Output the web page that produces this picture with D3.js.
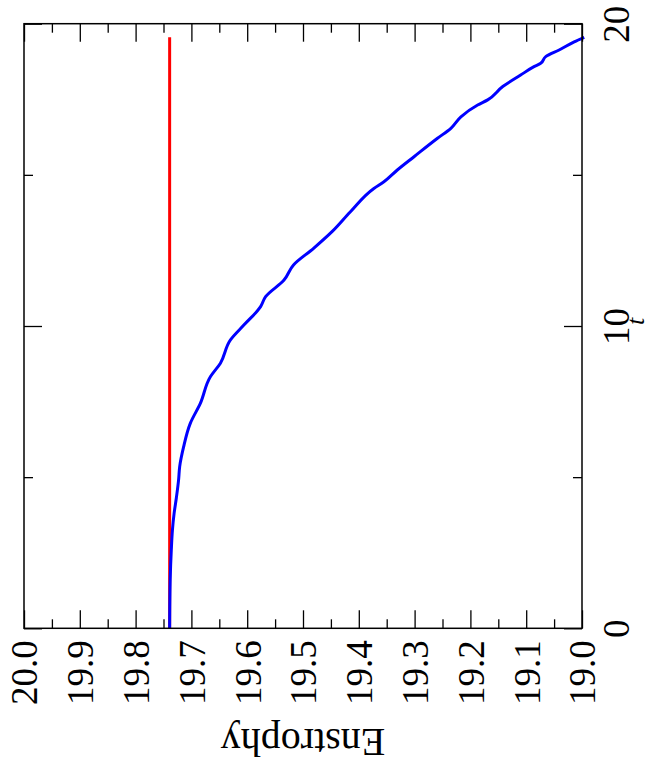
<!DOCTYPE html>
<html>
<head>
<meta charset="utf-8">
<script src="https://cdn.jsdelivr.net/npm/d3@7"></script>
<style>
  body { margin: 0; background: #fff; }
</style>
</head>
<body>
<div id="graph"></div>
<script>
// Data
const tValues = [0, 1.6, 2.6, 3.25, 3.8, 4.31, 4.9, 5.35, 6.0, 6.78, 7.44, 8.32, 8.77, 9.54, 10.03, 10.64, 10.97,
  11.52, 12.02, 12.57, 13.12, 13.78, 14.55, 14.77, 15.16, 15.6, 16.21, 16.54, 16.92, 17.31, 17.48, 17.92,
  18.3, 18.58, 18.69, 18.91, 19.13, 19.4, 19.55];
const enstrophyValues = [19.739, 19.738, 19.736, 19.734, 19.731, 19.727, 19.723, 19.721, 19.714, 19.702, 19.684,
  19.666, 19.648, 19.630, 19.606, 19.576, 19.567, 19.534, 19.517, 19.481, 19.448, 19.415, 19.373, 19.355,
  19.331, 19.301, 19.259, 19.235, 19.217, 19.187, 19.169, 19.142, 19.110, 19.086, 19.074, 19.065, 19.041,
  19.014, 18.996];
const refT = [0, 19.55];
const refEnstrophy = [19.739, 19.739];

const enstrophyTicks = [20.0, 19.9, 19.8, 19.7, 19.6, 19.5, 19.4, 19.3, 19.2, 19.1, 19.0];
const enstrophyMinor = [19.95, 19.85, 19.75, 19.65, 19.55, 19.45, 19.35, 19.25, 19.15, 19.05];
const tTicks = [0, 10, 20];
const tMinor = [5, 15];

const serif = "'Liberation Serif', 'Times New Roman', 'DejaVu Serif', serif";

// Dimensions (the whole chart is turned a quarter turn: t runs upward, Enstrophy runs leftward)
const width = 671;
const height = 771;
const plotLeft = 24, plotRight = 582, plotTop = 23.7, plotBottom = 628.3;

const x = d3.scaleLinear().domain([20, 19]).range([plotLeft, plotRight]);
const y = d3.scaleLinear().domain([0, 20]).range([plotBottom, plotTop]);

const svg = d3.create("svg")
    .attr("width", width)
    .attr("height", height);

const line = d3.line()
    .x(d => x(d[1]))
    .y(d => y(d[0]))
    .curve(d3.curveMonotoneY);

// Curves
svg.append("path")
    .datum(d3.zip(refT, refEnstrophy))
    .attr("fill", "none")
    .attr("stroke", "#ff0000")
    .attr("stroke-width", 3)
    .attr("d", line);

svg.append("path")
    .datum(d3.zip(tValues, enstrophyValues))
    .attr("fill", "none")
    .attr("stroke", "#0000ff")
    .attr("stroke-width", 3)
    .attr("stroke-linejoin", "round")
    .attr("d", line);

// Ticks on all four sides
function tickAxis(axis, values, size, tx, ty) {
  const g = svg.append("g")
      .attr("transform", `translate(${tx},${ty})`)
      .call(axis.tickValues(values).tickSize(-size).tickFormat(""));
  g.select(".domain").remove();
  g.selectAll("line").attr("stroke", "#000").attr("stroke-width", 1.3);
  return g;
}
tickAxis(d3.axisBottom(x), enstrophyTicks, 18, 0, plotBottom);
tickAxis(d3.axisBottom(x), enstrophyMinor, 9, 0, plotBottom);
tickAxis(d3.axisTop(x), enstrophyTicks, 18, 0, plotTop);
tickAxis(d3.axisTop(x), enstrophyMinor, 9, 0, plotTop);
tickAxis(d3.axisLeft(y), tTicks, 18, plotLeft, 0);
tickAxis(d3.axisLeft(y), tMinor, 9, plotLeft, 0);
tickAxis(d3.axisRight(y), tTicks, 18, plotRight, 0);
tickAxis(d3.axisRight(y), tMinor, 9, plotRight, 0);

// Frame
svg.append("rect")
    .attr("x", plotLeft)
    .attr("y", plotTop)
    .attr("width", plotRight - plotLeft)
    .attr("height", plotBottom - plotTop)
    .attr("fill", "none")
    .attr("stroke", "#000")
    .attr("stroke-width", 1.5);

// Enstrophy tick labels (below, reading upward)
const eLabels = svg.append("g")
    .attr("transform", `translate(0,${plotBottom})`)
    .call(d3.axisBottom(x).tickValues(enstrophyTicks).tickSize(0).tickFormat(d3.format(".1f")));
eLabels.select(".domain").remove();
eLabels.attr("font-family", null);
eLabels.selectAll("text")
    .style("font-family", serif)
    .style("font-size", "37px")
    .attr("fill", "#000")
    .attr("transform", "rotate(-90)")
    .attr("x", -12)
    .attr("y", 0)
    .attr("dy", "0.35em")
    .attr("text-anchor", "end");

// t tick labels (right side, reading upward)
const tLabels = svg.append("g")
    .attr("transform", `translate(${plotRight},0)`)
    .call(d3.axisRight(y).tickValues(tTicks).tickSize(0).tickFormat(d3.format("d")));
tLabels.select(".domain").remove();
tLabels.attr("font-family", null);
tLabels.selectAll("text")
    .style("font-family", serif)
    .style("font-size", "37px")
    .attr("fill", "#000")
    .attr("transform", "translate(34,0) rotate(-90)")
    .attr("x", 0)
    .attr("y", 0)
    .attr("dy", "0.35em")
    .attr("text-anchor", "middle");

// Axis titles
svg.append("text")
    .attr("transform", `translate(${(plotLeft + plotRight) / 2},729) rotate(180)`)
    .attr("text-anchor", "middle")
    .style("font-family", serif)
    .style("font-size", "40px")
    .text("Enstrophy");

svg.append("text")
    .attr("transform", `translate(644,${y(10.15)}) rotate(-90)`)
    .attr("text-anchor", "middle")
    .style("font-family", serif)
    .style("font-size", "26px")
    .style("font-style", "italic")
    .text("t");

document.getElementById("graph").appendChild(svg.node());
</script>
</body>
</html>
